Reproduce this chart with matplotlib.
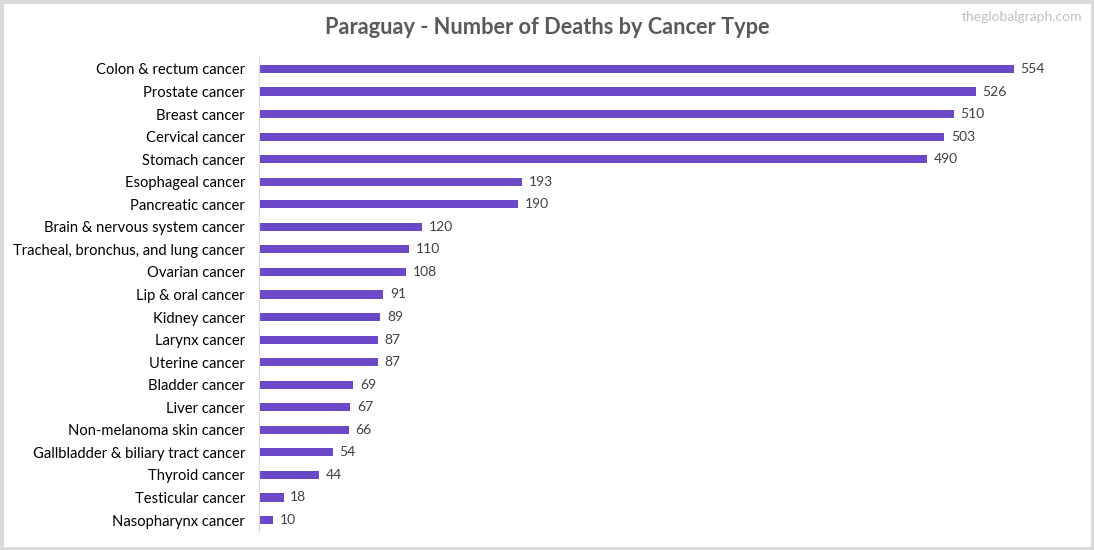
import matplotlib.pyplot as plt
from matplotlib.patches import Rectangle

plt.rcParams['font.family'] = ['Lato', 'DejaVu Sans']

# dane
cancer_types = [
    'Colon & rectum cancer', 'Prostate cancer', 'Breast cancer', 'Cervical cancer',
    'Stomach cancer', 'Esophageal cancer', 'Pancreatic cancer',
    'Brain & nervous system cancer', 'Tracheal, bronchus, and lung cancer',
    'Ovarian cancer', 'Lip & oral cancer', 'Kidney cancer', 'Larynx cancer',
    'Uterine cancer', 'Bladder cancer', 'Liver cancer', 'Non-melanoma skin cancer',
    'Gallbladder & biliary tract cancer', 'Thyroid cancer', 'Testicular cancer',
    'Nasopharynx cancer',
]
deaths = [554, 526, 510, 503, 490, 193, 190, 120, 110, 108, 91, 89, 87, 87,
          69, 67, 66, 54, 44, 18, 10]

W, H = 1094, 550
fig = plt.figure(figsize=(W / 100, H / 100), dpi=100)
fig.patches.append(Rectangle((0, 0), 1, 1, transform=fig.transFigure,
                             fill=False, edgecolor='#D9D9D9', linewidth=5))

ax = fig.add_axes([259 / W, 1 - 532 / H, (1075 - 259) / W, (532 - 57) / H])
ypos = range(len(cancer_types))
ax.barh(ypos, deaths, height=0.36, color='#6A48C8')
ax.set_ylim(len(cancer_types) - 0.47, -0.53)
ax.set_xlim(0, 599)
ax.set_yticks(list(ypos))
ax.set_yticklabels(cancer_types, fontsize=10.6, color='#000000')
ax.tick_params(axis='y', length=0, pad=10)
ax.set_xticks([])
for s in ['top', 'right', 'bottom']:
    ax.spines[s].set_visible(False)
ax.spines['left'].set_color('#D9D9D9')

for i, v in enumerate(deaths):
    ax.text(v + 5, i, str(v), va='center', ha='left', fontsize=10, color='#404040')

fig.text(0.5, 1 - 28 / H, 'Paraguay - Number of Deaths by Cancer Type',
         ha='center', va='center', fontsize=15.7, fontweight='bold', color='#595959')
fig.text(1082 / W, 1 - 17 / H, 'theglobalgraph.com', ha='right', va='center',
         fontsize=10, color='#BFBFBF')

fig.savefig('out.png', dpi=100)
